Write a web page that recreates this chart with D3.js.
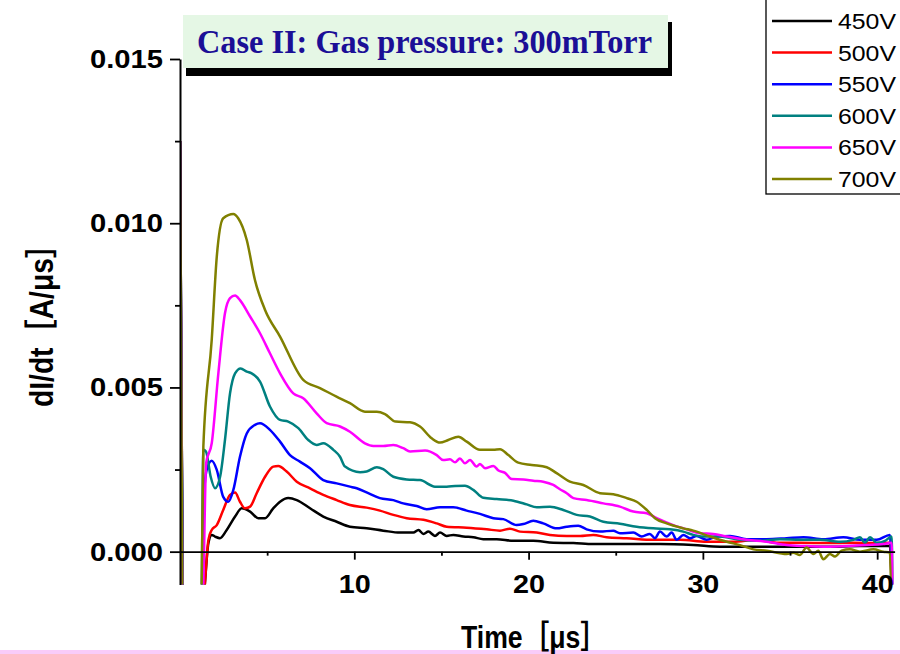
<!DOCTYPE html>
<html>
<head>
<meta charset="utf-8">
<script src="https://cdn.jsdelivr.net/npm/d3@7"></script>
<style>
  html, body { margin: 0; padding: 0; background: #ffffff; }
  svg { display: block; }
</style>
</head>
<body>
<svg id="chart" width="900" height="654"></svg>
<script>
// ---------------- data ----------------
const seriesNames = ["450V", "500V", "550V", "600V", "650V", "700V"];
const seriesColors = ["#000000", "#ff0000", "#0000ff", "#008080", "#ff00ff", "#808000"];

// [time (µs), dI/dt (A/µs)]
const s450 = [[0,0.0125],[0.25,-0.003],[1.15,-0.003],[1.43,-0.00095],[1.63,0.00026],[1.82,0.00051],[2.01,0.00046],[2.29,0.00041],[2.68,0.00066],[3.16,0.00107],[3.54,0.00132],[4.02,0.00122],[4.49,0.00102],[4.88,0.00102],[5.35,0.00132],[5.74,0.00152],[6.21,0.00163],[6.7,0.00157],[7.46,0.00132],[8.22,0.00107],[8.99,0.00091],[9.75,0.00076],[10.71,0.00071],[11.66,0.00064],[12.62,0.00058],[13.39,0.00058],[13.68,0.00066],[13.97,0.00054],[14.25,0.00061],[14.63,0.00048],[14.92,0.00058],[15.3,0.00048],[15.68,0.00051],[16.26,0.00046],[16.83,0.00044],[17.4,0.00038],[18.17,0.00038],[19.13,0.00033],[20.27,0.00033],[21.42,0.00027],[22.57,0.00026],[23.71,0.00023],[25.24,0.00023],[27.54,0.00023],[29.45,0.0002],[30.98,0.00015],[32.9,0.00015],[35.19,0.00015],[37.1,0.00015],[39.01,0.00017],[40.73,0.00017],[40.9,-0.003]];
const s500 = [[0,0.0125],[0.25,-0.003],[1.15,-0.003],[1.43,-0.00096],[1.63,0.00036],[1.82,0.00066],[2.11,0.00081],[2.48,0.00127],[2.87,0.00173],[3.16,0.0018],[3.44,0.00152],[3.73,0.00132],[4.02,0.00137],[4.4,0.00178],[4.88,0.00228],[5.35,0.00259],[5.64,0.00261],[6.12,0.00244],[6.7,0.00213],[7.46,0.00193],[8.22,0.00173],[8.99,0.00157],[9.75,0.00142],[10.71,0.00134],[11.47,0.00125],[12.24,0.00112],[13.01,0.00102],[13.97,0.00097],[14.73,0.00086],[15.3,0.00076],[16.45,0.00073],[17.6,0.00068],[18.36,0.00064],[18.93,0.0007],[19.51,0.00061],[20.47,0.00058],[21.23,0.00051],[22.19,0.00048],[22.95,0.00048],[23.71,0.00051],[24.48,0.00044],[25.63,0.00041],[27.16,0.00036],[28.69,0.00036],[30.21,0.0003],[31.75,0.0003],[33.09,0.00036],[34.23,0.00027],[35.57,0.00027],[37.1,0.00026],[38.63,0.00027],[39.97,0.00026],[40.73,0.00027],[40.9,-0.003]];
const s550 = [[0,0.0125],[0.25,-0.003],[1.2,-0.003],[1.34,0.00137],[1.53,0.00249],[1.82,0.00277],[2.11,0.00249],[2.48,0.00167],[2.77,0.00152],[3.06,0.00188],[3.44,0.00289],[3.83,0.0036],[4.3,0.00386],[4.59,0.00391],[5.16,0.00371],[5.74,0.00335],[6.31,0.00294],[6.88,0.00274],[7.46,0.00254],[8.22,0.00218],[8.99,0.00208],[9.75,0.00198],[10.14,0.00193],[10.8,0.00178],[11.47,0.00163],[12.24,0.00157],[12.81,0.00147],[13.58,0.00139],[14.15,0.00129],[14.92,0.00135],[15.68,0.00135],[16.45,0.00125],[17.21,0.00115],[17.98,0.00102],[18.55,0.00099],[19.31,0.00081],[19.7,0.00084],[20.27,0.00094],[20.84,0.00086],[21.61,0.00071],[22.19,0.00076],[22.85,0.00079],[23.33,0.00068],[24.1,0.00061],[24.86,0.00064],[25.24,0.00056],[26.01,0.00058],[26.49,0.00046],[26.96,0.00054],[27.25,0.00041],[27.54,0.00061],[27.92,0.00046],[28.21,0.00058],[28.5,0.00036],[28.88,0.00051],[29.26,0.00041],[29.64,0.00048],[30.21,0.00036],[30.79,0.00046],[31.56,0.00048],[32.51,0.00038],[33.66,0.00038],[34.81,0.00041],[35.77,0.00044],[36.92,0.00038],[38.06,0.00044],[39.01,0.00036],[39.97,0.00036],[40.73,0.00051],[40.9,-0.003]];
const s600 = [[0,0.0125],[0.25,-0.003],[1.2,-0.003],[1.34,0.0031],[1.49,0.00305],[1.76,0.00228],[2.01,0.00193],[2.3,0.00228],[2.58,0.0034],[2.87,0.00482],[3.16,0.00543],[3.48,0.00558],[3.83,0.00548],[4.11,0.00543],[4.59,0.00518],[5.16,0.00442],[5.74,0.00401],[6.21,0.00396],[6.79,0.00376],[7.36,0.0034],[7.84,0.00325],[8.22,0.0033],[8.8,0.0031],[9.18,0.00289],[9.47,0.00259],[10.33,0.00242],[10.71,0.00244],[11.29,0.00257],[11.66,0.00251],[12.24,0.00228],[13.01,0.0022],[13.77,0.00218],[14.63,0.00198],[15.3,0.00198],[15.78,0.002],[16.35,0.00201],[16.83,0.00188],[17.4,0.00164],[18.17,0.0016],[19.13,0.00155],[19.89,0.00144],[20.47,0.00135],[21.23,0.00137],[21.99,0.00127],[22.76,0.00112],[23.52,0.00107],[24.29,0.00091],[25.24,0.00085],[26.2,0.00076],[27.16,0.00071],[28.11,0.00068],[28.88,0.00061],[29.45,0.00051],[30.02,0.00046],[30.98,0.00046],[32.13,0.00036],[33.28,0.00033],[34.42,0.00038],[35.57,0.00036],[36.72,0.00036],[37.87,0.0003],[38.63,0.00036],[39.01,0.00044],[39.3,0.00027],[39.59,0.00044],[39.97,0.00027],[40.45,0.00033],[40.83,0.00046],[40.9,-0.003]];
const s650 = [[0,0.0125],[0.22,-0.003],[1.15,-0.003],[1.34,-0.00095],[1.5,0.0027],[1.82,0.0033],[2.2,0.00543],[2.58,0.00726],[2.87,0.00772],[3.16,0.0078],[3.44,0.00766],[4.02,0.00716],[4.59,0.00665],[5.16,0.00604],[5.74,0.00543],[6.5,0.00482],[7.07,0.00467],[7.84,0.00421],[8.42,0.00391],[9.18,0.00381],[9.75,0.00365],[10.61,0.0033],[11.09,0.00322],[11.66,0.00322],[12.24,0.00325],[12.81,0.00315],[13.2,0.00305],[14.06,0.00308],[14.73,0.00294],[15.1,0.00279],[15.49,0.00281],[15.78,0.00272],[16.06,0.00284],[16.35,0.00269],[16.64,0.00279],[17.02,0.00259],[17.21,0.00267],[17.5,0.00254],[17.98,0.00261],[18.27,0.00247],[18.65,0.0024],[19.03,0.00221],[19.7,0.0022],[20.27,0.00216],[20.84,0.00213],[21.42,0.00203],[21.8,0.0019],[22.19,0.00178],[22.57,0.00163],[23.33,0.00157],[24.29,0.00147],[25.24,0.00137],[26.01,0.00122],[26.78,0.00117],[27.35,0.00102],[28.3,0.00081],[29.07,0.00068],[29.83,0.00056],[30.6,0.00054],[31.37,0.00046],[32.51,0.00036],[33.66,0.0003],[34.81,0.0002],[35.95,0.00017],[37.1,0.00015],[38.25,0.00017],[39.4,0.0002],[40.35,0.00023],[40.83,0.00027],[40.9,-0.003]];
const s700 = [[0,0.0125],[0.22,-0.003],[1.1,-0.003],[1.245,-0.00095],[1.34,0.0032],[1.82,0.00645],[2.11,0.00898],[2.48,0.01015],[3.06,0.01028],[3.34,0.01015],[3.83,0.00949],[4.3,0.00827],[4.88,0.00736],[5.74,0.00655],[7.07,0.00523],[8.03,0.00498],[8.98,0.00472],[9.75,0.00452],[10.61,0.00426],[11.29,0.00426],[11.76,0.00419],[12.37,0.00396],[13.2,0.00394],[13.77,0.00381],[14.44,0.00345],[14.92,0.00332],[15.39,0.0034],[15.97,0.0035],[16.45,0.00335],[17.21,0.0031],[17.98,0.0031],[18.36,0.00312],[18.84,0.00294],[19.41,0.00271],[20.18,0.00264],[21.04,0.00257],[21.61,0.00239],[22.37,0.00213],[23.14,0.00203],[24.1,0.00178],[24.86,0.00175],[25.63,0.00163],[26.2,0.00152],[26.78,0.00127],[27.25,0.00102],[27.92,0.00086],[28.88,0.00071],[29.45,0.00064],[30.41,0.00046],[31.37,0.0003],[32.13,0.0002],[32.9,0.00007],[33.66,0.00003],[34.81,-0.00007],[35.19,-0.00003],[35.57,-0.0001],[35.95,0.00013],[36.34,-0.00007],[36.62,0.00003],[36.91,-0.00023],[37.29,-0.00007],[37.58,-0.00015],[37.96,0.00003],[38.44,0.00007],[39.01,0],[39.78,0.00007],[40.35,0],[40.73,-0.00003],[40.85,-0.003]];

const xMajorTicks = [10, 20, 30, 40];
const xMinorTicks = [5, 15, 25, 35];
const yMajorTicks = [0, 0.005, 0.010, 0.015];
const yMinorTicks = [0.0025, 0.0075, 0.0125];
const titleText = "Case II: Gas pressure: 300mTorr";
const xTitle = "Time［μs］";
const yTitle = "dI/dt［A/μs］";

// ---------------- drawing ----------------
const allSeries = [s450, s500, s550, s600, s650, s700];
const svg = d3.select("#chart");
const sans = "Arial, 'Liberation Sans', 'Noto Sans CJK JP', sans-serif";

const x = d3.scaleLinear().domain([0, 41]).range([180, 894.6]);
const y = d3.scaleLinear().domain([-0.001, 0.015]).range([584.5, 59]);

// background pink strip at the bottom
svg.append("rect").attr("x", 0).attr("y", 650).attr("width", 900).attr("height", 4).attr("fill", "#f9ccf9");

// clip
svg.append("defs").append("clipPath").attr("id", "plotclip")
  .append("rect").attr("x", x(0)).attr("y", y(0.015) - 2)
  .attr("width", x(41) - x(0)).attr("height", y(-0.001) - y(0.015) + 2);

// curves
const line = d3.line().x(d => x(d[0])).y(d => y(d[1])).curve(d3.curveMonotoneX);
const gLines = svg.append("g").attr("clip-path", "url(#plotclip)");
allSeries.forEach((s, i) => {
  gLines.append("path").datum(s).attr("d", line)
    .attr("fill", "none").attr("stroke", seriesColors[i])
    .attr("stroke-width", 2.5).attr("stroke-linejoin", "round");
});

// axes
const yAxis = svg.append("g").attr("transform", `translate(${x(0)},0)`)
  .call(d3.axisLeft(y).tickValues(yMajorTicks).tickSize(10).tickSizeOuter(0).tickFormat(d3.format(".3f")));
yAxis.select(".domain").attr("stroke-width", 2);
yAxis.selectAll(".tick line").attr("stroke-width", 1.8);
yAxis.selectAll("text")
  .attr("x", -17).attr("dy", null).attr("y", 8.5)
  .attr("font-family", sans).attr("font-weight", "bold").attr("font-size", 26.5)
  .attr("fill", "#000").attr("textLength", 73).attr("lengthAdjust", "spacingAndGlyphs");

const yMinor = svg.append("g").attr("transform", `translate(${x(0)},0)`)
  .call(d3.axisLeft(y).tickValues(yMinorTicks).tickSize(5).tickFormat(""));
yMinor.select(".domain").remove();
yMinor.selectAll(".tick line").attr("stroke-width", 1.8);

const xAxis = svg.append("g").attr("transform", `translate(0,${y(0)})`)
  .call(d3.axisBottom(x).tickValues(xMajorTicks).tickSize(8).tickSizeOuter(0).tickFormat(d3.format("d")));
xAxis.select(".domain").attr("stroke-width", 1.8);
xAxis.selectAll(".tick line").attr("stroke-width", 1.8);
xAxis.selectAll("text")
  .attr("y", 41).attr("dy", null)
  .attr("font-family", sans).attr("font-weight", "bold").attr("font-size", 26.5)
  .attr("fill", "#000").attr("textLength", 32).attr("lengthAdjust", "spacingAndGlyphs");

const xMinor = svg.append("g").attr("transform", `translate(0,${y(0)})`)
  .call(d3.axisBottom(x).tickValues(xMinorTicks).tickSize(4).tickFormat(""));
xMinor.select(".domain").remove();
xMinor.selectAll(".tick line").attr("stroke-width", 1.8);

// axis titles
svg.append("text").attr("x", 534).attr("y", 648).attr("text-anchor", "middle")
  .attr("font-family", sans).attr("font-weight", "bold").attr("font-size", 32).attr("fill", "#000")
  .attr("textLength", 146).attr("lengthAdjust", "spacingAndGlyphs").text(xTitle);
svg.append("text").attr("transform", "translate(53,318.5) rotate(-90)").attr("text-anchor", "middle")
  .attr("font-family", sans).attr("font-weight", "bold").attr("font-size", 33).attr("fill", "#000")
  .attr("textLength", 177).attr("lengthAdjust", "spacingAndGlyphs").text(yTitle);

// title box with shadow
svg.append("rect").attr("x", 186).attr("y", 22).attr("width", 486).attr("height", 54).attr("fill", "#000");
svg.append("rect").attr("x", 183).attr("y", 15).attr("width", 485).attr("height", 53).attr("fill", "#e5f7e5");
svg.append("text").attr("x", 197).attr("y", 53)
  .attr("font-family", "'Times New Roman', 'Liberation Serif', serif").attr("font-weight", "bold")
  .attr("font-size", 33).attr("fill", "#1b0f96")
  .attr("textLength", 455).attr("lengthAdjust", "spacingAndGlyphs").text(titleText);

// legend
const leg = svg.append("g");
leg.append("rect").attr("x", 766).attr("y", -1).attr("width", 200).attr("height", 195)
  .attr("fill", "#fff").attr("stroke", "#000").attr("stroke-width", 1.3);
const rowY = d3.scaleLinear().domain([0, 5]).range([21, 179]);
seriesNames.forEach((name, i) => {
  leg.append("line").attr("x1", 772).attr("x2", 832).attr("y1", rowY(i)).attr("y2", rowY(i))
    .attr("stroke", seriesColors[i]).attr("stroke-width", 2.5);
  leg.append("text").attr("x", 838).attr("y", rowY(i) + 8)
    .attr("font-family", sans).attr("font-size", 22).attr("fill", "#000")
    .attr("textLength", 58).attr("lengthAdjust", "spacingAndGlyphs").text(name);
});
</script>
</body>
</html>
